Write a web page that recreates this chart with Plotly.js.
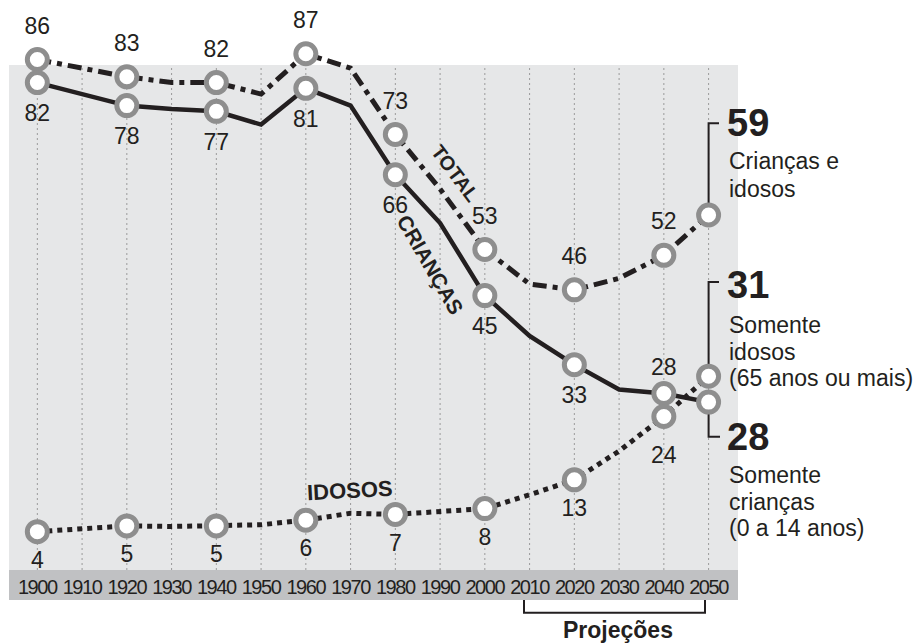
<!DOCTYPE html>
<html><head><meta charset="utf-8">
<script src="https://cdn.plot.ly/plotly-3.0.1.min.js"></script>
<style>html,body{margin:0;padding:0;background:#fff}#chart{width:918px;height:643px}
#chart .xtick text{letter-spacing:-1.4px}</style>
</head><body><div id="chart"></div>
<script>
// ---- data ----
const anos = [1900,1910,1920,1930,1940,1950,1960,1970,1980,1990,2000,2010,2020,2030,2040,2050];
const total = [86,84.5,83,82,82,80,87,84.5,73,63.5,53,47,46,48,52,59];
const criancas = [82,80,78,77.4,77,74.7,81,78,66,57.6,45,38,33,28.7,28,26.5];
const idosos = [4,4.4,5,4.9,5,5.2,6,7.2,7,7.5,8,10.4,13,18,24,31];
const anosMarcados = [1900,1920,1940,1960,1980,2000,2020,2040,2050];
const anosRotulados = [1900,1920,1940,1960,1980,2000,2020,2040];
const rotulosEixo = anos.map(String);
const destaque2050 = ['59','31','28'];
const legendaTotal = ['Crianças e','idosos'];
const legendaIdosos = ['Somente','idosos','(65 anos ou mais)'];
const legendaCriancas = ['Somente','crianças','(0 a 14 anos)'];
const nomesSeries = ['TOTAL','CRIANÇAS','IDOSOS'];
const tituloProjecao = 'Projeções';

// ---- styling / geometry ----
const INK = '#231f20';
const RING = '#8e8e8e';
const FONT = 'Liberation Sans, Arial, Helvetica, sans-serif';
const W = 918, H = 643;
const M = {l: 9, r: 180, t: 0, b: 73};
const PW = W - M.l - M.r, PH = H - M.t - M.b;
const GRAY_TOP = 65;           // pixel row where the grey panel starts
const xRange = [1893.67, 2056.57];
const yRange = [-2.66, 96.34];
const xp = px => (px - M.l) / PW;
const yp = py => (H - M.b - py) / PH;
const xd = px => xRange[0] + xp(px) * (xRange[1] - xRange[0]);
const yd = py => yRange[0] + yp(py) * (yRange[1] - yRange[0]);
const pick = (serie, yrs) => yrs.map(a => serie[anos.indexOf(a)]);
const last = s => s[s.length - 1];

function linha(serie, dash, width) {
  return {x: anos, y: serie, type: 'scatter', mode: 'lines', cliponaxis: false,
    hoverinfo: 'skip', line: {color: INK, width: width, dash: dash}};
}
function marcadores(serie) {
  return {x: anosMarcados, y: pick(serie, anosMarcados), type: 'scatter', mode: 'markers',
    cliponaxis: false, hoverinfo: 'skip',
    marker: {symbol: 'circle', size: 20, color: '#ffffff', line: {color: RING, width: 5}}};
}
function rotulos(serie, posicoes, tamanhos) {
  const ys = pick(serie, anosRotulados);
  return {x: anosRotulados, y: ys, type: 'scatter', mode: 'markers+text', cliponaxis: false,
    hoverinfo: 'skip', text: ys.map(v => String(Math.round(v))),
    textposition: posicoes, textfont: {family: FONT, size: 23, color: INK},
    marker: {size: tamanhos, color: 'rgba(0,0,0,0)', opacity: 0}};
}
const n = anosRotulados.length;
const fill = (v) => Array(n).fill(v);
const posCri = fill('bottom center'); posCri[n-1] = 'top center';
const tamCri = fill(32); tamCri[n-1] = 19.3;
const tamIdo = fill(28.7); tamIdo[n-1] = 44.7;

const data = [
  linha(total, '14px,6px,5px,6px', 5),
  linha(criancas, 'solid', 4.5),
  linha(idosos, '5px,5px', 5),
  marcadores(total), marcadores(criancas), marcadores(idosos),
  rotulos(total, fill('top center'), fill(30.5)),
  rotulos(criancas, posCri, tamCri),
  rotulos(idosos, fill('bottom center'), tamIdo)
];

const ann = [];
function txt(t, x, y, o) {
  ann.push(Object.assign({text: t, xref: 'paper', yref: 'paper', x: xp(x), y: yp(y),
    showarrow: false, xanchor: 'center', yanchor: 'middle',
    font: {family: FONT, size: 22, color: INK}}, o || {}));
}
// series names along the lines
txt('<b>' + nomesSeries[0] + '</b>', 455, 173, {textangle: 53, font: {family: FONT, size: 20, color: INK}});
txt('<b>' + nomesSeries[1] + '</b>', 431, 265, {textangle: 60, font: {family: FONT, size: 21, color: INK}});
txt('<b>' + nomesSeries[2] + '</b>', 349.5, 490.5, {textangle: -3, font: {family: FONT, size: 22, color: INK}});
// 2050 highlights
const big = {xanchor: 'left', font: {family: FONT, size: 38, color: INK}};
txt('<b>' + destaque2050[0] + '</b>', 725, 122.8, big);
txt('<b>' + destaque2050[1] + '</b>', 725, 284.8, big);
txt('<b>' + destaque2050[2] + '</b>', 725, 436.8, big);
const small = {xanchor: 'left', font: {family: FONT, size: 23, color: INK}};
[161, 188.5].forEach((y, i) => txt(legendaTotal[i], 727, y, small));
[325.3, 352, 378].forEach((y, i) => txt(legendaIdosos[i], 727, y, small));
[475.3, 501.6, 527.6].forEach((y, i) => txt(legendaCriancas[i], 727, y, small));
txt('<b>' + tituloProjecao + '</b>', 618, 630, {font: {family: FONT, size: 23, color: INK}});

const bracket = {type: 'path', xref: 'x', yref: 'y', layer: 'below', line: {color: INK, width: 2}};
const shapes = [
  // grey panel and axis band
  {type: 'rect', xref: 'paper', yref: 'paper', x0: 0, x1: 1, y0: 0, y1: yp(GRAY_TOP),
    fillcolor: '#e6e7e8', line: {width: 0}, layer: 'below'},
  {type: 'rect', xref: 'paper', yref: 'paper', x0: 0, x1: 1, y0: yp(600), y1: 0,
    fillcolor: '#c0c1c3', line: {width: 0}, layer: 'below'}
];
// dotted decade grid inside the grey panel
anos.forEach(a => shapes.push({type: 'line', xref: 'x', yref: 'paper', x0: a, x1: a, y0: 0, y1: yp(GRAY_TOP),
  line: {color: '#9a9a9a', width: 1, dash: '2px,3px'}, layer: 'below'}));
shapes.push(
  Object.assign({}, bracket, {path: `M ${xd(719)},${yd(123.3)} L 2050,${yd(123.3)} L 2050,${last(total)}`}),
  Object.assign({}, bracket, {path: `M ${xd(719)},${yd(282)} L 2050,${yd(282)} L 2050,${last(idosos)}`}),
  Object.assign({}, bracket, {path: `M 2050,${last(criancas)} L 2050,${yd(436.7)} L ${xd(720)},${yd(436.7)}`}),
  {type: 'path', xref: 'paper', yref: 'paper', line: {color: INK, width: 2},
    path: `M ${xp(524)},${yp(600)} L ${xp(524)},${yp(612.7)} L ${xp(705)},${yp(612.7)} L ${xp(705)},${yp(600)}`}
);

const layout = {
  width: W, height: H, margin: {l: M.l, r: M.r, t: M.t, b: M.b, pad: 0},
  paper_bgcolor: '#ffffff', plot_bgcolor: 'rgba(0,0,0,0)', showlegend: false, hovermode: false,
  xaxis: {range: xRange, tickvals: anos, ticktext: rotulosEixo, showgrid: false,
    zeroline: false, showline: false, tickangle: 0,
    ticks: '', ticklabelstandoff: 3, tickfont: {family: FONT, size: 20, color: INK}, fixedrange: true},
  yaxis: {range: yRange, visible: false, showgrid: false, zeroline: false, fixedrange: true},
  annotations: ann, shapes: shapes
};
Plotly.newPlot('chart', data, layout, {displayModeBar: false, staticPlot: true});
</script></body></html>
